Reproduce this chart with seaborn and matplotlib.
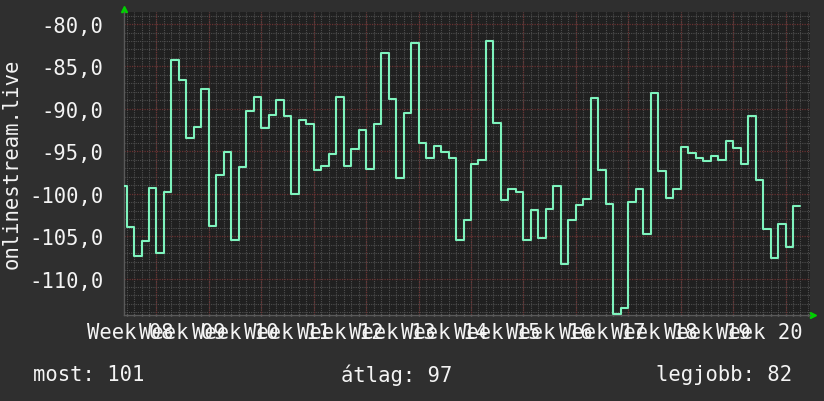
import matplotlib
matplotlib.use("Agg")
import matplotlib.pyplot as plt
import matplotlib.ticker as mticker
import numpy as np
import pandas as pd
import seaborn as sns

# daily values (dBm-ish), one per day
values = [
    -99.1, -103.9, -107.4, -105.6, -99.3, -107.0, -99.8, -84.2, -86.6, -93.4,
    -92.1, -87.7, -103.8, -97.8, -95.1, -105.4, -96.9, -90.2, -88.6,
    -92.2, -90.7, -88.9, -90.8, -100.0, -91.3, -91.8, -97.2, -96.7, -95.3,
    -88.6, -96.7, -94.7, -92.5, -97.1, -91.8, -83.4, -88.8,
    -98.2, -90.5, -82.2, -94.0, -95.8, -94.4, -95.1, -95.8, -105.4, -103.1,
    -96.5, -96.0, -82.0, -91.7, -100.7, -99.4, -99.8, -105.4,
    -101.9, -105.2, -101.8, -99.1, -108.3, -103.1, -101.3, -100.6, -88.7, -97.2,
    -101.2, -114.2, -113.5, -101.0, -99.5, -104.8, -88.1, -97.3,
    -100.5, -99.5, -94.5, -95.2, -95.8, -96.1, -95.6, -96.0, -93.8, -94.6,
    -96.5, -90.8, -98.4, -104.2, -107.6, -103.6, -106.3, -101.4,
]
week_labels = ["Week %02d" % w for w in range(8, 21)]
ylabel = "onlinestream.live"
stats = {"most": 101, "átlag": 97, "legjobb": 82}

BG = "#2f2f2f"
PLOT_BG = "#202020"
LINE = "#7ef3bd"
FG = "#f4f4f4"
MINOR = "#4e4e4e"
MAJOR = "#6a3030"
ARROW = "#00d000"
FONT = "DejaVu Sans Mono"

sns.set_theme(style="dark")
plt.rcParams["font.family"] = [FONT, "DejaVu Sans"]

# day k-1 .. k holds values[k]; week boundaries fall on day 4, 11, ...
days = np.arange(len(values)) - 1
df = pd.DataFrame({"day": np.append(days, days[-1] + 1),
                   "val": values + [values[-1]]})

fig = plt.figure(figsize=(8.24, 4.02), dpi=100, facecolor=BG)
ax = fig.add_axes([124 / 824, 1 - 316 / 402, 686 / 824, 303 / 402])
ax.set_facecolor(PLOT_BG)

x_lo, x_hi = -0.34, 91.27
y_lo, y_hi = -114.3, -78.58
ax.set_xlim(x_lo, x_hi)
ax.set_ylim(y_lo, y_hi)

# grid: minor grey dotted, major reddish dotted
dot = (0, (1, 1))
ax.xaxis.set_minor_locator(mticker.MultipleLocator(1))
ax.yaxis.set_minor_locator(mticker.MultipleLocator(1))
ax.grid(False)
ax.grid(which="minor", color=MINOR, linestyle=dot, linewidth=0.8)
for wk in np.arange(4, x_hi, 7):
    ax.axvline(wk, color=MAJOR, linestyle=dot, linewidth=0.9, zorder=1)
for yv in np.arange(-110, y_hi, 5):
    ax.axhline(yv, color=MAJOR, linestyle=dot, linewidth=0.9, zorder=1)

sns.lineplot(data=df, x="day", y="val", ax=ax, color=LINE, linewidth=1.5,
             drawstyle="steps-post", estimator=None, sort=False, zorder=3)

# ticks
ax.set_yticks(np.arange(-110, y_hi, 5))
ax.yaxis.set_major_formatter(
    mticker.FuncFormatter(lambda v, p: ("%.1f" % v).replace(".", ",")))
ax.set_xticks(0.5 + 7 * np.arange(len(week_labels)))
ax.set_xticklabels(week_labels)
ax.tick_params(axis="both", which="major", length=0, colors=FG,
               labelsize=14.8)
ax.tick_params(axis="y", which="major", pad=15)
ax.tick_params(axis="x", which="major", pad=5)
ax.tick_params(axis="x", which="minor", length=2, direction="inout",
               color="#777777", bottom=True)
ax.set_xlabel("")
ax.set_ylabel("")

for s in ["top", "right"]:
    ax.spines[s].set_visible(False)
for s in ["left", "bottom"]:
    ax.spines[s].set_color("#5a5a5a")
    ax.spines[s].set_linewidth(1)

# small green axis arrows like rrdtool
ax.plot([0], [1.01], marker="^", color=ARROW, markersize=4,
        transform=ax.transAxes, clip_on=False)
ax.plot([1.004], [0], marker=">", color=ARROW, markersize=4,
        transform=ax.transAxes, clip_on=False)

fig.text(12 / 824, 1 - 164 / 402, ylabel, rotation=90, color=FG,
         fontsize=14.8, ha="center", va="center", family=FONT)

fy = 1 - 375 / 402
fig.text(33 / 824, fy, "most: %d" % stats["most"], color=FG,
         fontsize=14.8, ha="left", va="center", family=FONT)
fig.text(341 / 824, fy, "átlag: %d" % stats["átlag"], color=FG,
         fontsize=14.8, ha="left", va="center", family=FONT)
fig.text(792 / 824, fy, "legjobb: %d" % stats["legjobb"], color=FG,
         fontsize=14.8, ha="right", va="center", family=FONT)

fig.savefig("out.png", dpi=100, facecolor=BG)
